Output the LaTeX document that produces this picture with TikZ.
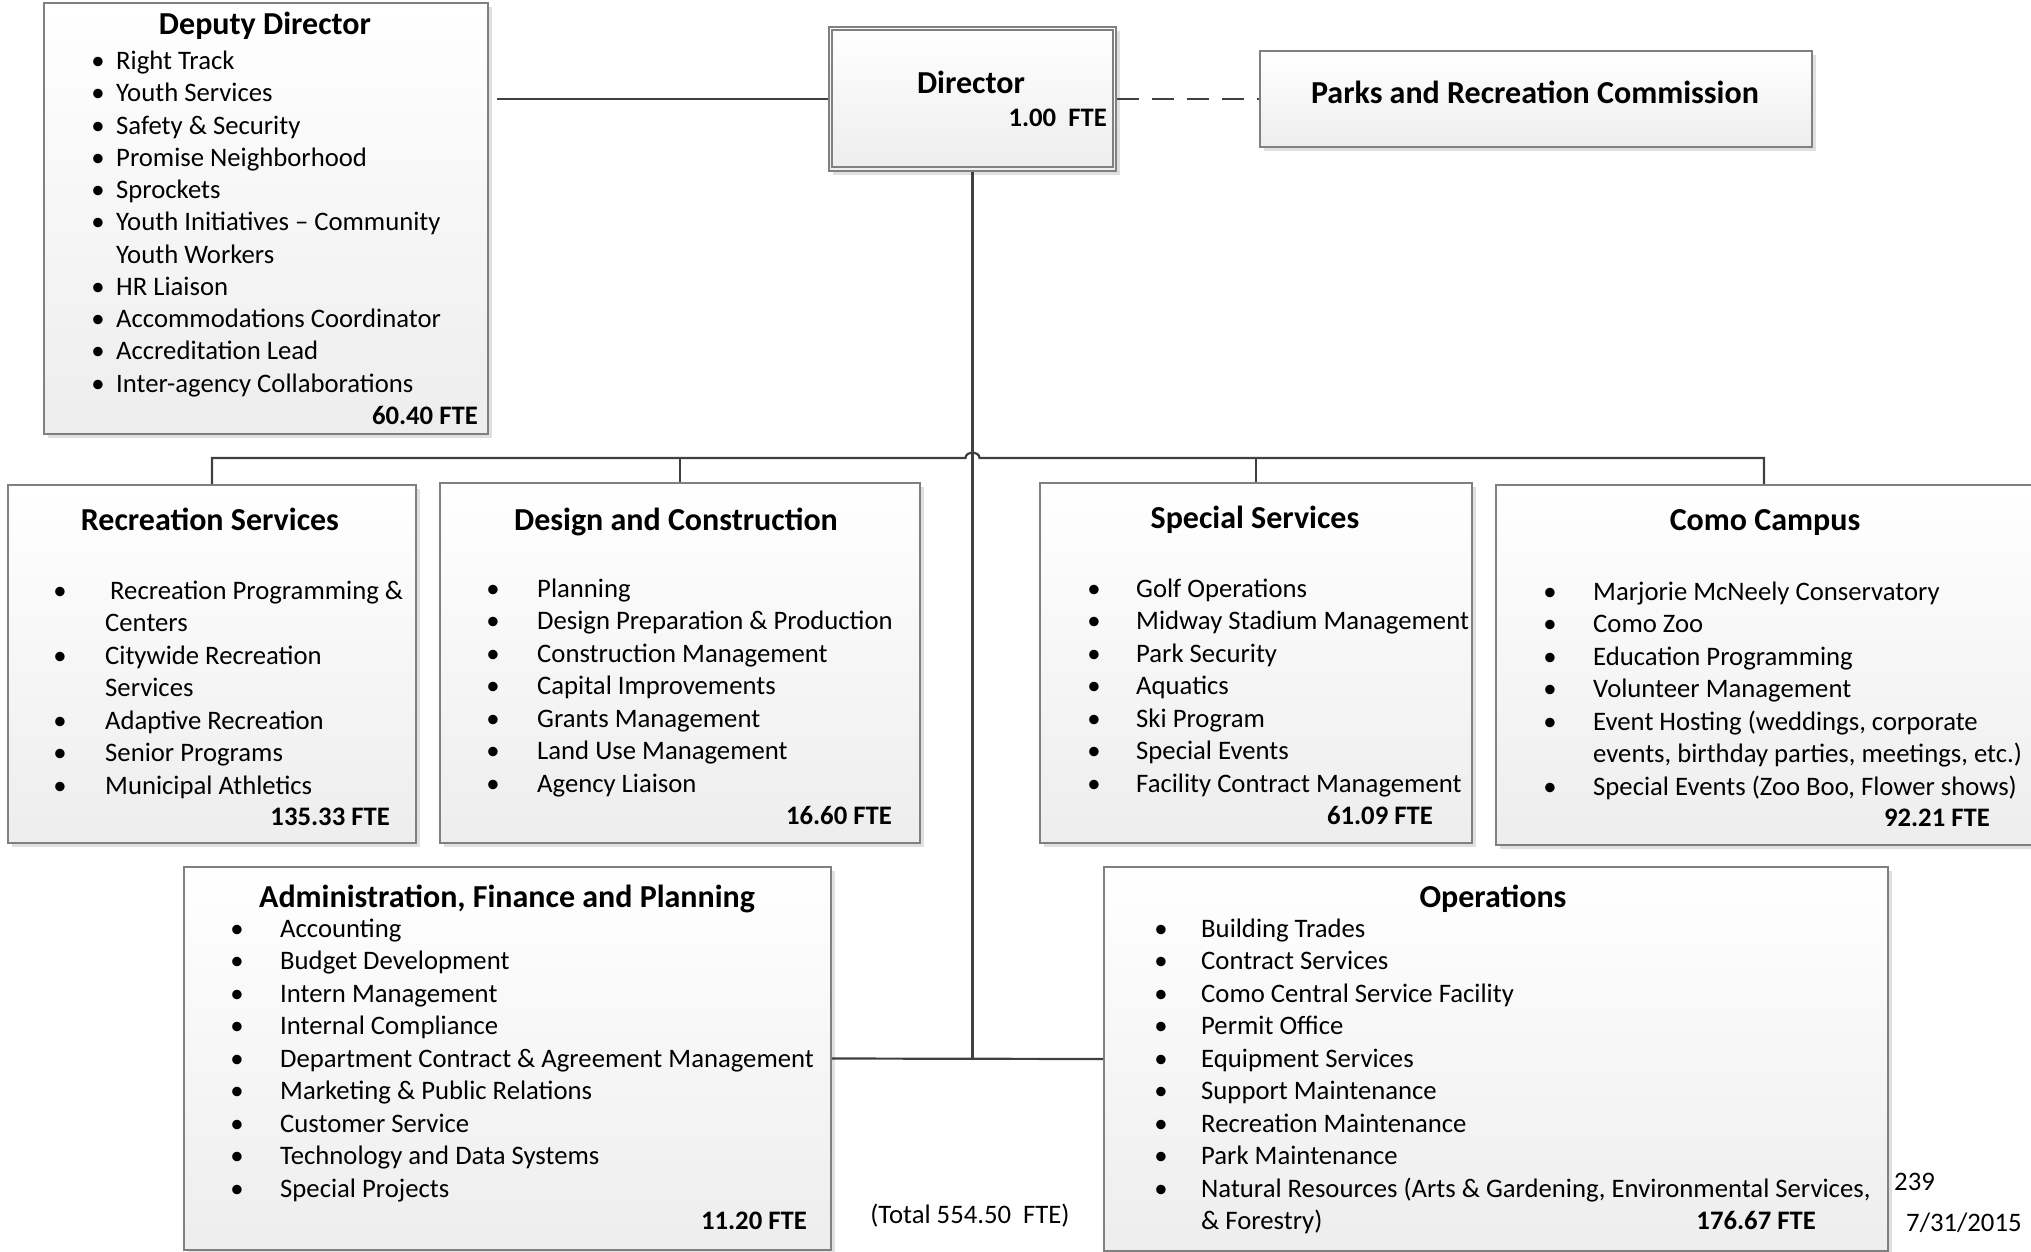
\documentclass[tikz,border=0pt]{standalone}
\usepackage{fontspec}
\setmainfont{Carlito}
\usetikzlibrary{shadows,calc}
\definecolor{boxline}{HTML}{808080}
\definecolor{conn}{HTML}{404040}
\tikzset{
  box/.style={rectangle, anchor=north west, draw=boxline, line width=2pt,
    top color=white, bottom color=black!7, inner sep=0pt,
    drop shadow={shadow xshift=4pt, shadow yshift=-4pt, fill=black!12, opacity=1}},
  conline/.style={draw=conn, line width=2.2pt},
  item/.style={anchor=base west, inner sep=0pt, font=\fontsize{26.7}{32}\selectfont},
  bul/.style={anchor=base, inner sep=0pt, font=\fontsize{26.7}{32}\selectfont},
  ttl/.style={anchor=base, inner sep=0pt, font=\fontsize{32}{38}\selectfont\bfseries},
  fte/.style={anchor=base east, inner sep=0pt, font=\fontsize{26.7}{32}\selectfont\bfseries},
  plain/.style={anchor=base west, inner sep=0pt, font=\fontsize{26.7}{32}\selectfont},
}
\newcommand\linesep{32.45}
\newcommand\bullist[5]{%
  \foreach \b/\t [count=\i] in {#5} {
    \node[item] (#1-\i) at (#3, {#4+(\i-1)*\linesep}) {\t};
    \ifnum\b=1 \node[bul] (#1-b\i) at (#2, {#4+(\i-1)*\linesep}) {•};\fi
  }}
\begin{document}
\begin{tikzpicture}[x=1pt,y=-1pt]
\useasboundingbox (0,0) rectangle (2031,1251);

% boxes
\node[box, minimum width=444pt, minimum height=431pt] (dd) at (43,2) {};
\node[box, minimum width=287pt, minimum height=144pt] (dir) at (828,26) {};
\draw[draw=boxline, line width=2pt] ([shift={(4,4)}]dir.north west) rectangle ([shift={(-4,-5)}]dir.south east);
\node[box, minimum width=552pt, minimum height=96pt] (prc) at (1259,50) {};
\node[box, minimum width=408pt, minimum height=358pt] (rs) at (7,484) {};
\node[box, minimum width=480pt, minimum height=360pt] (dc) at (439,482) {};
\node[box, minimum width=432pt, minimum height=360pt] (ss) at (1039,482) {};
\node[box, minimum width=536pt, minimum height=360pt] (como) at (1495,484) {};
\node[box, minimum width=647pt, minimum height=383pt] (af) at (183,866) {};
\node[box, minimum width=784pt, minimum height=384pt] (ops) at (1103,866) {};

% connectors
\coordinate (bus) at (dir.south |- 0,458);
\draw[conline] ([xshift=8pt]dd.east |- dir.west) -- (dir.west);
\draw[conline, dash pattern=on 22pt off 13pt] (dir.east) -- (prc.west);
\draw[conline] (dir.south) -- (dir.south |- af.east);
\draw[conline] (af.east) -- (ops.west);
\draw[conline] (rs.north) -- (rs.north |- bus) -- ([xshift=-7pt]bus)
  .. controls ([xshift=-7pt,yshift=7pt]bus) and ([xshift=7pt,yshift=7pt]bus) .. ([xshift=7pt]bus)
  -- (como.north |- bus) -- (como.north);
\draw[conline] (dc.north |- bus) -- (dc.north);
\draw[conline] (ss.north |- bus) -- (ss.north);

% Director & commission
\node[ttl] (dirt) at (971,93.5) {Director};
\node[fte] (dirf) at (1107,126.5) {1.00\ \ FTE};
\node[ttl] (prct) at (1535,103.5) {Parks and Recreation Commission};

% Deputy Director
\node[ttl] (ddt) at (265,34.5) {Deputy Director};
\renewcommand\linesep{32.25}
\bullist{dd}{98}{116}{69.5}{1/Right Track, 1/Youth Services, 1/Safety \& Security, 1/Promise Neighborhood, 1/Sprockets, 1/Youth Initiatives -- Community, 0/Youth Workers, 1/HR Liaison, 1/Accommodations Coordinator, 1/Accreditation Lead, 1/Inter-agency Collaborations}
\renewcommand\linesep{32.45}
\node[fte] (ddf) at (478,424.5) {60.40 FTE};

% Recreation Services
\node[ttl] (rst) at (210,530.5) {Recreation Services};
\bullist{rs}{60}{105}{599.5}{1/{\hspace*{5pt}Recreation Programming \&}, 0/Centers, 1/Citywide Recreation, 0/Services, 1/Adaptive Recreation, 1/Senior Programs, 1/Municipal Athletics}
\node[fte] (rsf) at (390,825.5) {135.33 FTE};

% Design and Construction
\node[ttl] (dct) at (676,530.5) {Design and Construction};
\bullist{dc}{493}{537}{597.5}{1/Planning, 1/Design Preparation \& Production, 1/Construction Management, 1/Capital Improvements, 1/Grants Management, 1/Land Use Management, 1/Agency Liaison}
\node[fte] (dcf) at (892,824.5) {16.60 FTE};

% Special Services
\node[ttl] (sst) at (1255,528.5) {Special Services};
\bullist{ss}{1094}{1136}{597.5}{1/Golf Operations, 1/Midway Stadium Management, 1/Park Security, 1/Aquatics, 1/Ski Program, 1/Special Events, 1/Facility Contract Management}
\node[fte] (ssf) at (1433,824.5) {61.09 FTE};

% Como Campus
\node[ttl] (cct) at (1765,530.5) {Como Campus};
\bullist{cc}{1550}{1593}{600.5}{1/Marjorie McNeely Conservatory, 1/Como Zoo, 1/Education Programming, 1/Volunteer Management, 1/{Event Hosting (weddings, corporate}, 0/{events, birthday parties, meetings, etc.)}, 1/{Special Events (Zoo Boo, Flower shows)}}
\node[fte] (ccf) at (1990,826.5) {92.21 FTE};

% Administration
\node[ttl] (aft) at (507,907) {Administration, Finance and Planning};
\bullist{af}{237}{280}{937.5}{1/Accounting, 1/Budget Development, 1/Intern Management, 1/Internal Compliance, 1/Department Contract \& Agreement Management, 1/Marketing \& Public Relations, 1/Customer Service, 1/Technology and Data Systems, 1/Special Projects}
\node[fte] (aff) at (807,1229.5) {11.20 FTE};

% Operations
\node[ttl] (opt) at (1493,907) {Operations};
\bullist{op}{1161}{1201}{937.5}{1/Building Trades, 1/Contract Services, 1/Como Central Service Facility, 1/Permit Office, 1/Equipment Services, 1/Support Maintenance, 1/Recreation Maintenance, 1/Park Maintenance, 1/{Natural Resources (Arts \& Gardening, Environmental Services,}, 0/{\& Forestry)}}
\node[fte] (opf) at (1816,1229) {176.67 FTE};

% free texts
\node[anchor=base, inner sep=0pt, font=\fontsize{26.7}{32}\selectfont] (total) at (970,1223.5) {(Total 554.50\ \ FTE)};
\node[plain] (page) at (1894,1190.5) {239};
\node[plain] (date) at (1906,1231) {7/31/2015};
\end{tikzpicture}
\end{document}
